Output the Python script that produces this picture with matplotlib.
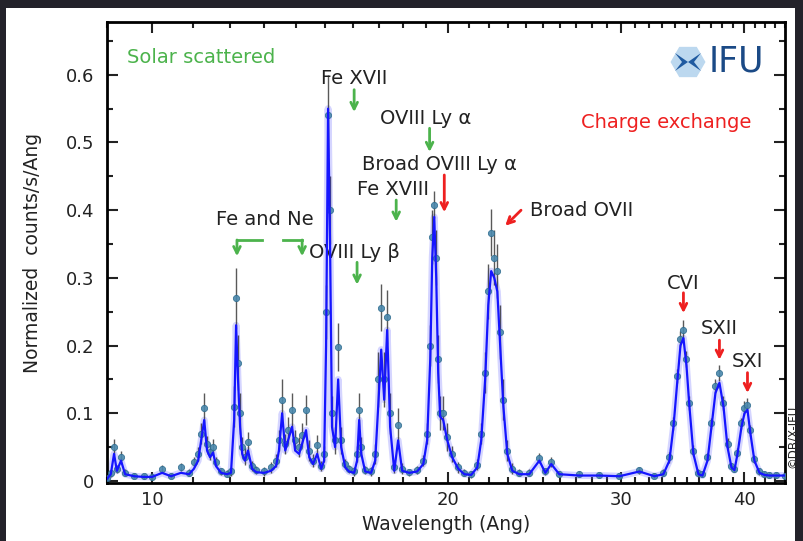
import matplotlib
matplotlib.use("Agg")
import matplotlib.pyplot as plt
from matplotlib.patches import Rectangle, RegularPolygon, Polygon
from matplotlib.ticker import FixedLocator, FuncFormatter, MultipleLocator
import numpy as np

# wavelength (Ang), fitted model, observed counts, 1-sigma error
wavelength = [9.00, 9.08, 9.15, 9.21, 9.30, 9.39, 9.59, 9.81, 10.00, 10.24,
              10.455, 10.70, 10.905, 11.03, 11.14, 11.22, 11.30, 11.375, 11.455, 11.536,
              11.617, 11.754, 11.92, 12.03, 12.12, 12.175, 12.23, 12.29, 12.35, 12.43,
              12.52, 12.64, 12.76, 13.00, 13.21, 13.37, 13.46, 13.56, 13.66, 13.75,
              13.88, 13.98, 14.11, 14.21, 14.34, 14.45, 14.58, 14.72, 14.86, 14.96,
              15.03, 15.10, 15.17, 15.24, 15.35, 15.46, 15.57, 15.72, 15.86, 16.05,
              16.16, 16.24, 16.32, 16.47, 16.70, 16.86, 16.98, 17.10, 17.22, 17.34,
              17.46, 17.63, 17.79, 17.96, 18.26, 18.60, 18.87, 19.04, 19.18, 19.27,
              19.36, 19.45, 19.54, 19.63, 19.77, 19.96, 20.19, 20.48, 20.77, 21.11,
              21.41, 21.61, 21.81, 21.97, 22.12, 22.28, 22.44, 22.59, 22.76, 22.97,
              23.24, 23.62, 24.18, 24.76, 25.11, 25.46, 25.94, 27.19, 28.49, 29.86,
              31.29, 32.41, 33.10, 33.57, 33.89, 34.21, 34.45, 34.69, 34.94, 35.18,
              35.51, 35.93, 36.27, 36.70, 37.04, 37.39, 37.74, 38.10, 38.46, 38.82,
              39.09, 39.37, 39.74, 40.02, 40.30, 40.58, 40.96, 41.45, 41.93, 42.43,
              43.13, 43.95]
model = [0.003, 0.010, 0.040, 0.015, 0.030, 0.010, 0.007, 0.006, 0.006, 0.012,
         0.007, 0.012, 0.010, 0.018, 0.030, 0.060, 0.090, 0.045, 0.035, 0.042,
         0.022, 0.012, 0.010, 0.012, 0.090, 0.230, 0.150, 0.080, 0.040, 0.030,
         0.045, 0.018, 0.013, 0.012, 0.015, 0.022, 0.045, 0.100, 0.045, 0.060,
         0.080, 0.045, 0.040, 0.055, 0.075, 0.035, 0.025, 0.040, 0.018, 0.030,
         0.200, 0.550, 0.350, 0.080, 0.050, 0.150, 0.050, 0.020, 0.014, 0.012,
         0.030, 0.090, 0.040, 0.014, 0.012, 0.030, 0.110, 0.194, 0.120, 0.223,
         0.080, 0.015, 0.060, 0.015, 0.012, 0.014, 0.025, 0.060, 0.180, 0.330,
         0.390, 0.300, 0.160, 0.095, 0.090, 0.060, 0.035, 0.018, 0.010, 0.009,
         0.020, 0.060, 0.150, 0.260, 0.310, 0.300, 0.280, 0.200, 0.110, 0.040,
         0.015, 0.010, 0.010, 0.030, 0.012, 0.025, 0.010, 0.008, 0.008, 0.007,
         0.014, 0.007, 0.010, 0.030, 0.080, 0.150, 0.200, 0.211, 0.170, 0.110,
         0.040, 0.010, 0.008, 0.030, 0.080, 0.130, 0.145, 0.110, 0.050, 0.020,
         0.016, 0.040, 0.080, 0.100, 0.105, 0.070, 0.030, 0.012, 0.009, 0.008,
         0.008, 0.008]
observed = [0.004, 0.012, 0.050, 0.018, 0.035, 0.012, 0.008, 0.007, 0.006, 0.018,
            0.008, 0.020, 0.012, 0.028, 0.040, 0.070, 0.108, 0.055, 0.043, 0.050,
            0.028, 0.014, 0.011, 0.014, 0.110, 0.270, 0.175, 0.100, 0.050, 0.036,
            0.058, 0.022, 0.016, 0.014, 0.020, 0.030, 0.060, 0.120, 0.055, 0.075,
            0.105, 0.060, 0.050, 0.068, 0.105, 0.045, 0.030, 0.053, 0.022, 0.040,
            0.250, 0.540, 0.400, 0.100, 0.060, 0.198, 0.060, 0.025, 0.018, 0.014,
            0.040, 0.105, 0.050, 0.016, 0.014, 0.040, 0.150, 0.256, 0.150, 0.242,
            0.100, 0.020, 0.083, 0.018, 0.013, 0.016, 0.030, 0.070, 0.200, 0.360,
            0.408, 0.330, 0.180, 0.100, 0.100, 0.065, 0.040, 0.020, 0.012, 0.010,
            0.024, 0.070, 0.160, 0.280, 0.367, 0.330, 0.310, 0.220, 0.120, 0.045,
            0.018, 0.012, 0.012, 0.034, 0.014, 0.028, 0.011, 0.010, 0.009, 0.008,
            0.016, 0.008, 0.012, 0.035, 0.085, 0.155, 0.210, 0.223, 0.180, 0.115,
            0.045, 0.012, 0.010, 0.035, 0.085, 0.140, 0.160, 0.115, 0.055, 0.022,
            0.018, 0.042, 0.085, 0.108, 0.112, 0.075, 0.033, 0.014, 0.010, 0.009,
            0.009, 0.008]
error = [0.003, 0.006, 0.012, 0.006, 0.010, 0.005, 0.004, 0.004, 0.004, 0.006,
         0.004, 0.006, 0.005, 0.008, 0.010, 0.015, 0.022, 0.012, 0.012, 0.012,
         0.008, 0.005, 0.005, 0.006, 0.030, 0.045, 0.040, 0.030, 0.015, 0.012,
         0.015, 0.008, 0.006, 0.006, 0.008, 0.010, 0.015, 0.030, 0.015, 0.020,
         0.025, 0.015, 0.015, 0.018, 0.022, 0.015, 0.010, 0.015, 0.008, 0.012,
         0.040, 0.060, 0.050, 0.025, 0.020, 0.035, 0.020, 0.008, 0.006, 0.006,
         0.012, 0.025, 0.015, 0.006, 0.006, 0.015, 0.040, 0.035, 0.040, 0.040,
         0.030, 0.008, 0.025, 0.008, 0.005, 0.006, 0.008, 0.015, 0.030, 0.040,
         0.020, 0.040, 0.035, 0.025, 0.025, 0.020, 0.012, 0.008, 0.005, 0.005,
         0.008, 0.015, 0.030, 0.040, 0.035, 0.040, 0.040, 0.040, 0.030, 0.015,
         0.008, 0.005, 0.005, 0.008, 0.005, 0.008, 0.004, 0.004, 0.004, 0.004,
         0.005, 0.004, 0.005, 0.008, 0.010, 0.010, 0.012, 0.015, 0.012, 0.010,
         0.008, 0.005, 0.004, 0.006, 0.008, 0.010, 0.012, 0.010, 0.008, 0.005,
         0.005, 0.006, 0.008, 0.010, 0.010, 0.008, 0.006, 0.005, 0.004, 0.004,
         0.004, 0.004]

green = '#4cb34c'
red = '#ee2020'
ink = '#222222'

fig = plt.figure(figsize=(8.04, 5.41), dpi=100, facecolor='#23222a')
fig.patches.append(Rectangle((6 / 804, 0), 789 / 804, 533 / 541, transform=fig.transFigure,
                             facecolor='white', edgecolor='none', zorder=-10))
ax = fig.add_axes([107 / 804, 58 / 541, 678 / 804, 461 / 541])

ax.plot(wavelength, model, color='#5a5aff', lw=5, alpha=0.25, zorder=2)
ax.errorbar(wavelength, observed, yerr=error, fmt='none', ecolor='#222222',
            elinewidth=1, alpha=0.75, zorder=3)
ax.plot(wavelength, observed, 'o', ms=4.5, mfc='#4a88ad', mec='#2e6c8e', mew=0.6,
        alpha=0.9, zorder=4)
ax.plot(wavelength, model, color='#1515ff', lw=1.6, zorder=5)

ax.set_xscale('log')
ax.set_xlim(9, 44)
ax.set_ylim(-0.003, 0.678)
ax.xaxis.set_major_locator(FixedLocator([10, 20, 30, 40]))
ax.xaxis.set_minor_locator(FixedLocator(np.arange(9, 45)))
ax.xaxis.set_major_formatter(FuncFormatter(lambda v, p: '%d' % v))
ax.xaxis.set_minor_formatter(FuncFormatter(lambda v, p: ''))
ax.yaxis.set_major_locator(MultipleLocator(0.1))
ax.yaxis.set_minor_locator(MultipleLocator(0.05))
ax.yaxis.set_major_formatter(FuncFormatter(lambda v, p: '%g' % round(v, 2)))
ax.tick_params(which='both', direction='in', top=True, right=True, width=1.5,
               labelsize=13, colors=ink)
ax.tick_params(which='major', length=8)
ax.tick_params(which='minor', length=4)
ax.tick_params(axis='y', which='major', pad=9)
ax.tick_params(axis='x', which='major', pad=6)
for s in ax.spines.values():
    s.set_linewidth(2)
ax.set_xlabel('Wavelength (Ang)', fontsize=13.5, color=ink, labelpad=4)
ax.set_ylabel('Normalized  counts/s/Ang', fontsize=13.5, color=ink, labelpad=17)

fs = 14
tk = dict(fontsize=fs, color=ink, va='center')
ax.text(9.43, 0.626, 'Solar scattered', fontsize=fs, color=green, va='center')
ax.text(27.32, 0.530, 'Charge exchange', fontsize=fs, color=red, va='center')
ax.text(14.86, 0.595, 'Fe XVII', **tk)
ax.text(17.06, 0.536, 'OVIII Ly α', **tk)
ax.text(16.36, 0.467, 'Broad OVIII Ly α', **tk)
ax.text(16.16, 0.430, 'Fe XVIII', **tk)
ax.text(24.23, 0.399, 'Broad OVII', **tk)
ax.text(11.62, 0.386, 'Fe and Ne', **tk)
ax.text(14.45, 0.338, 'OVIII Ly β', **tk)
ax.text(34.69, 0.292, 'CVI', ha='center', **tk)
ax.text(37.74, 0.225, 'SXII', ha='center', **tk)
ax.text(40.30, 0.176, 'SXI', ha='center', **tk)

def arrow(x0, y0, x1, y1, c):
    ax.annotate('', xy=(x1, y1), xytext=(x0, y0),
                arrowprops=dict(arrowstyle='->', color=c, lw=2, mutation_scale=12,
                                shrinkA=0, shrinkB=0))

arrow(16.05, 0.578, 16.05, 0.545, green)
arrow(19.15, 0.521, 19.15, 0.486, green)
arrow(19.82, 0.452, 19.82, 0.397, red)
arrow(17.71, 0.415, 17.71, 0.383, green)
arrow(23.72, 0.400, 22.86, 0.377, red)
arrow(16.16, 0.323, 16.16, 0.290, green)
arrow(34.69, 0.278, 34.69, 0.248, red)
arrow(37.74, 0.208, 37.74, 0.179, red)
arrow(40.30, 0.160, 40.30, 0.130, red)
# Fe and Ne bracket arrows
ax.plot([12.94, 12.20], [0.356, 0.356], color=green, lw=2)
arrow(12.20, 0.356, 12.20, 0.332, green)
ax.plot([13.59, 14.21], [0.356, 0.356], color=green, lw=2)
arrow(14.21, 0.356, 14.21, 0.332, green)

# IFU logo (drawn in inches so the hexagon is not squashed)
inch = fig.dpi_scale_trans
cx, cy = 6.88, (541 - 62) / 100
fig.patches.append(RegularPolygon((cx, cy), 6, radius=0.175, orientation=np.pi / 6,
                                  transform=inch, facecolor='#bcd8ef',
                                  edgecolor='none', zorder=5))
for pts in ([(-0.13, 0.09), (0.0, 0.0), (-0.13, -0.09), (-0.06, 0.0)],
            [(0.13, 0.09), (0.0, 0.0), (0.13, -0.09), (0.06, 0.0)]):
    fig.patches.append(Polygon([(cx + x, cy + y) for x, y in pts], closed=True,
                               transform=inch, facecolor='#1f5aa0',
                               edgecolor='none', zorder=6))
fig.text(709 / 804, 1 - 61 / 541, 'IFU', fontsize=25, color='#1b4a86',
         va='center', ha='left')
fig.text(792 / 804, 1 - 436 / 541, '©DB/X-IFU', fontsize=8.5, rotation=90,
         color=ink, ha='center', va='center')

fig.savefig('out.png', dpi=100, facecolor=fig.get_facecolor())
